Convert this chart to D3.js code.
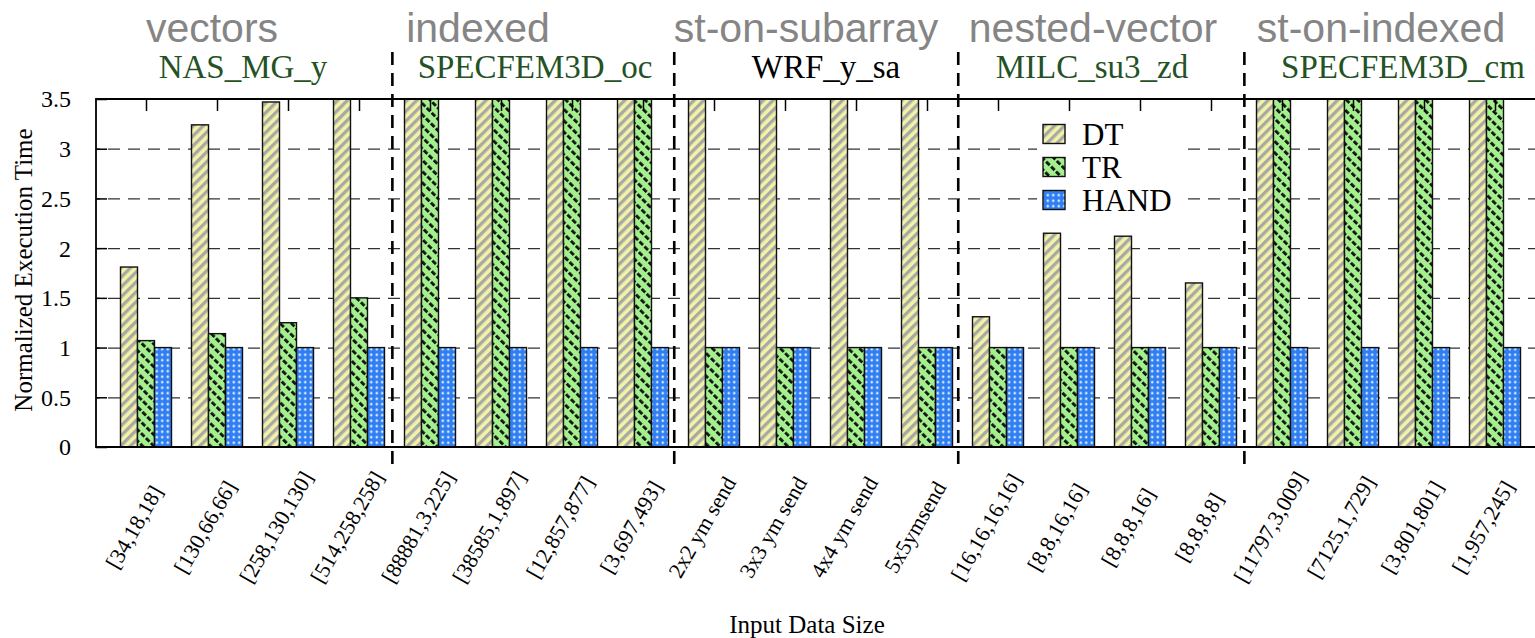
<!DOCTYPE html>
<html>
<head>
<meta charset="utf-8">
<script src="https://cdn.jsdelivr.net/npm/d3@7"></script>
<style>
  html, body { margin: 0; padding: 0; background: #fff; }
  svg { display: block; }
</style>
</head>
<body>
<svg id="chart" width="1535" height="638"></svg>
<script>
// ---------------- data ----------------
const categories = [
  "[34,18,18]", "[130,66,66]", "[258,130,130]", "[514,258,258]",
  "[88881,3,225]", "[38585,1,897]", "[12,857,877]", "[3,697,493]",
  "2x2 ym send", "3x3 ym send", "4x4 ym send", "5x5ymsend",
  "[16,16,16,16]", "[8,8,16,16]", "[8,8,8,16]", "[8,8,8,8]",
  "[11797,3,009]", "[7125,1,729]", "[3,801,801]", "[1,957,245]"
];
const seriesNames = ["DT", "TR", "HAND"];
// values at 3.5 run off the top of the axis (clipped in the original)
const DT   = [1.81, 3.24, 3.47, 3.5,  3.5, 3.5, 3.5, 3.5,  3.5, 3.5, 3.5, 3.5,  1.31, 2.15, 2.12, 1.65,  3.5, 3.5, 3.5, 3.5];
const TR   = [1.07, 1.14, 1.25, 1.50, 3.5, 3.5, 3.5, 3.5,  1, 1, 1, 1,          1, 1, 1, 1,              3.5, 3.5, 3.5, 3.5];
const HAND = [1, 1, 1, 1,  1, 1, 1, 1,  1, 1, 1, 1,  1, 1, 1, 1,  1, 1, 1, 1];
const groupTitles    = ["vectors", "indexed", "st-on-subarray", "nested-vector", "st-on-indexed"];
const groupSubtitles = ["NAS_MG_y", "SPECFEM3D_oc", "WRF_y_sa", "MILC_su3_zd", "SPECFEM3D_cm"];
const yTicks = [0, 0.5, 1, 1.5, 2, 2.5, 3, 3.5];
const yTickLabels = ["0", "0.5", "1", "1.5", "2", "2.5", "3", "3.5"];

// ---------------- layout ----------------
const W = 1535, H = 638;
const plot = { left: 96, top: 99, bottom: 447, right: 1540 };
const titleX    = [212, 478, 806, 1093, 1381];
const subtitleX = [243, 535, 826, 1092, 1403];
const subtitleColor = ["#245224", "#245224", "#000000", "#245224", "#245224"];
const separatorsAt = [3.47, 7.44, 11.44, 15.47];
const serif = "'Liberation Serif', 'Times New Roman', Times, serif";
const sans = "'Liberation Sans', Arial, Helvetica, sans-serif";

const svg = d3.select("#chart");

// patterns
const defs = svg.append("defs");
const pDT = defs.append("pattern").attr("id", "pDT").attr("patternUnits", "userSpaceOnUse")
  .attr("width", 7).attr("height", 7).attr("patternTransform", "rotate(45)");
pDT.append("rect").attr("width", 7).attr("height", 7).attr("fill", "#f2f2a8");
pDT.append("rect").attr("width", 3.3).attr("height", 7).attr("fill", "#a8a8a4");

const pTR = defs.append("pattern").attr("id", "pTR").attr("patternUnits", "userSpaceOnUse")
  .attr("width", 8).attr("height", 7).attr("patternTransform", "rotate(-45)");
pTR.append("rect").attr("width", 8).attr("height", 7).attr("fill", "#a4f08e");
pTR.append("rect").attr("width", 2.8).attr("height", 5).attr("fill", "#111");

const pHA = defs.append("pattern").attr("id", "pHA").attr("patternUnits", "userSpaceOnUse")
  .attr("width", 5.5).attr("height", 5.5);
pHA.append("rect").attr("width", 5.5).attr("height", 5.5).attr("fill", "#2f7ff2");
pHA.append("circle").attr("cx", 2.75).attr("cy", 2.75).attr("r", 1.3).attr("fill", "#dce9ff");

const fills = ["url(#pDT)", "url(#pTR)", "url(#pHA)"];

defs.append("clipPath").attr("id", "plotClip").append("rect")
  .attr("x", plot.left).attr("y", plot.top)
  .attr("width", plot.right - plot.left).attr("height", plot.bottom - plot.top);

// scales
const x = d3.scaleLinear().domain([0, categories.length - 1]).range([146, 1495]);
const y = d3.scaleLinear().domain([0, 3.5]).range([plot.bottom, plot.top]).clamp(true);
const barW = 17;
const offsets = d3.scaleBand().domain(seriesNames).range([-1.5 * barW, 1.5 * barW]);

// gridlines
const yAxisGrid = d3.axisLeft(y).tickValues(yTicks.filter(v => v > 0 && v < 3.5))
  .tickSize(-(W - plot.left)).tickFormat("");
const grid = svg.append("g").attr("transform", `translate(${plot.left},0)`).call(yAxisGrid);
grid.select(".domain").remove();
grid.selectAll(".tick line").attr("stroke", "#333").attr("stroke-width", 1.3)
  .attr("stroke-dasharray", "12,8").attr("stroke-dashoffset", -12);

// bars
const series = [DT, TR, HAND];
const barsG = svg.append("g").attr("clip-path", "url(#plotClip)");
series.forEach((vals, si) => {
  barsG.selectAll(null).data(vals).enter().append("rect")
    .attr("x", (d, i) => x(i) + offsets(seriesNames[si]))
    .attr("width", barW)
    .attr("y", d => y(d))
    .attr("height", d => plot.bottom - y(d))
    .attr("fill", fills[si])
    .attr("stroke", "#111")
    .attr("stroke-width", 1.4);
});

// separators (dashed vertical)
svg.append("g").selectAll("line").data(separatorsAt).enter().append("line")
  .attr("x1", d => x(d)).attr("x2", d => x(d))
  .attr("y1", 52).attr("y2", 466)
  .attr("stroke", "#000").attr("stroke-width", 2.6)
  .attr("stroke-dasharray", "13,8");

// frame
svg.append("path")
  .attr("d", `M${W + 5},${plot.top} H${plot.left} V${plot.bottom} H${W + 5}`)
  .attr("fill", "none").attr("stroke", "#000").attr("stroke-width", 1.8);

// y axis (inward ticks + labels)
const yAxis = d3.axisLeft(y).tickValues(yTicks).tickSize(-11)
  .tickFormat((d, i) => yTickLabels[i]).tickPadding(25);
const yG = svg.append("g").attr("transform", `translate(${plot.left},0)`).call(yAxis);
yG.select(".domain").remove();
yG.selectAll(".tick line").attr("stroke", "#000").attr("stroke-width", 1.5);
yG.selectAll(".tick text").attr("font-family", serif).attr("font-size", 24)
  .attr("fill", "#000").attr("dy", "0.33em");

// top ticks (mirror)
const xTop = d3.axisTop(x).tickValues(d3.range(categories.length)).tickSize(-12).tickFormat("");
const xTopG = svg.append("g").attr("transform", `translate(0,${plot.top})`).call(xTop);
xTopG.select(".domain").remove();
xTopG.selectAll(".tick line").attr("stroke", "#000").attr("stroke-width", 1.5);

// x labels (rotated)
svg.append("g").selectAll("text").data(categories).enter().append("text")
  .attr("transform", (d, i) => `translate(${x(i) - 12},527) rotate(-60)`)
  .attr("text-anchor", "middle").attr("dy", "0.35em")
  .attr("font-family", serif).attr("font-size", 22).attr("fill", "#000")
  .text(d => d);

// group titles
svg.append("g").selectAll("text").data(groupTitles).enter().append("text")
  .attr("x", (d, i) => titleX[i]).attr("y", 42)
  .attr("text-anchor", "middle").attr("font-family", sans).attr("font-size", 41)
  .attr("fill", "#858585").text(d => d);
svg.append("g").selectAll("text").data(groupSubtitles).enter().append("text")
  .attr("x", (d, i) => subtitleX[i]).attr("y", 78)
  .attr("text-anchor", "middle").attr("font-family", serif).attr("font-size", 33)
  .attr("fill", (d, i) => subtitleColor[i]).text(d => d);

// axis titles
svg.append("text").attr("transform", "translate(32,270) rotate(-90)")
  .attr("text-anchor", "middle").attr("font-family", serif).attr("font-size", 25)
  .attr("fill", "#000").text("Normalized Execution Time");
svg.append("text").attr("x", 807).attr("y", 633)
  .attr("text-anchor", "middle").attr("font-family", serif).attr("font-size", 25)
  .attr("fill", "#000").text("Input Data Size");

// legend
const lg = svg.append("g");
lg.append("rect").attr("x", 1037).attr("y", 116).attr("width", 148).attr("height", 100).attr("fill", "#fff");
const legRowY = d3.scalePoint().domain(seriesNames).range([134, 200]);
seriesNames.forEach((s, i) => {
  lg.append("rect").attr("x", 1043).attr("y", legRowY(s) - 9.5).attr("width", 22).attr("height", 19)
    .attr("fill", fills[i]).attr("stroke", "#111").attr("stroke-width", 1.4);
  lg.append("text").attr("x", 1082).attr("y", legRowY(s) + 10.5)
    .attr("font-family", serif).attr("font-size", 31).attr("fill", "#000").text(s);
});
</script>
</body>
</html>
